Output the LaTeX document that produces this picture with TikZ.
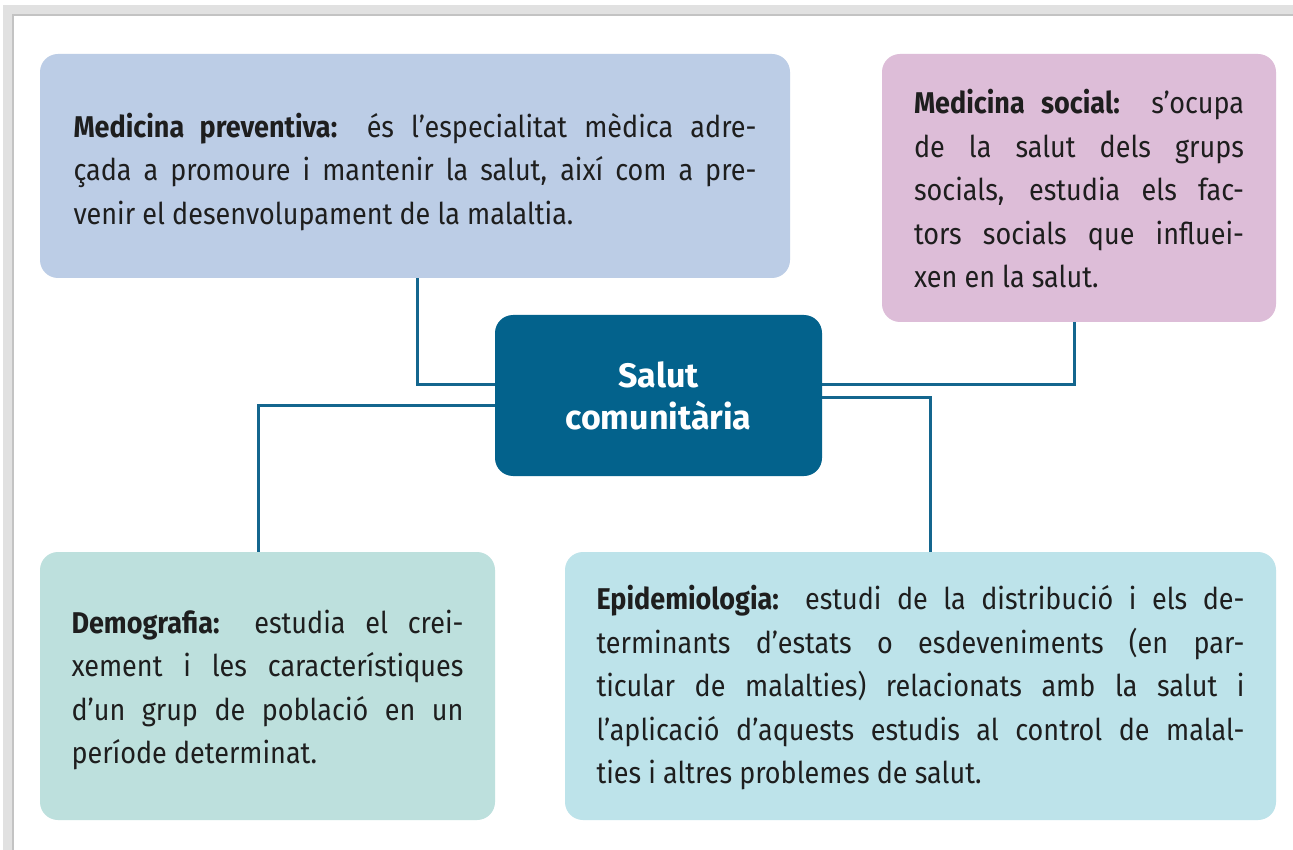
\documentclass[tikz,border=0pt]{standalone}
\usepackage{fontspec}
\setmainfont[FakeStretch=0.9]{Fira Sans}
\newfontfamily\cenfont{Fira Sans}
\definecolor{cprev}{HTML}{BCCDE6}
\definecolor{cpink}{HTML}{DDBDD8}
\definecolor{ccent}{HTML}{03628C}
\definecolor{cgreen}{HTML}{BDE0DD}
\definecolor{cepid}{HTML}{BDE3EA}
\definecolor{cline}{HTML}{14668E}
\definecolor{ctext}{HTML}{1E1E1E}
\definecolor{cframe}{HTML}{D4D4D4}
\newcommand\jl[2]{\setbox0=\hbox{#2}\ifdim\wd0>#1\relax\scalebox{\fpeval{(#1)/(\wd0)}}[1]{\box0}\else\makebox[#1][s]{#2}\fi}
\tikzset{
  box/.style={rounded corners=18pt, inner sep=0pt},
  txt/.style={inner sep=0pt, align=left, text=ctext,
    font=\fontsize{30}{43.5}\selectfont},
  conn/.style={draw=cline, line width=3pt},
}
\begin{document}
\begin{tikzpicture}[x=1pt,y=-1pt]
\useasboundingbox (0,0) rectangle (1293,850);
\fill[white] (0,0) rectangle (1293,850);
% frame
\draw[cframe!70, line width=10pt] (8,860) -- (8,10) -- (1300,10);
\draw[cframe!140, line width=1.2pt] (13,860) -- (13,15) -- (1300,15);

\node[box, fill=cprev, minimum width=750pt, minimum height=224pt] (prev) at (415,166) {};
\node[txt] (prevtxt) at ([yshift=-6pt]prev.center)
 {\jl{683pt}{\textbf{Medicina preventiva:} és l'especialitat mèdica adre-}\\
  \jl{683pt}{çada a promoure i mantenir la salut, així com a pre-}\\
  venir el desenvolupament de la malaltia.};

\node[box, fill=cpink, minimum width=394pt, minimum height=268pt] (soc) at (1079,188) {};
\node[txt] (soctxt) at ([yshift=-1pt]soc.center)
 {\jl{330pt}{\textbf{Medicina social:} s'ocupa}\\
  \jl{330pt}{de la salut dels grups}\\
  \jl{330pt}{socials, estudia els fac-}\\
  \jl{330pt}{tors socials que influei-}\\
  xen en la salut.};

\node[box, fill=ccent, minimum width=327pt, minimum height=161pt, align=center, text=white,
  font=\fontsize{34}{42}\cenfont\bfseries] (cen) at (658.5,395.5)
 {Salut\\comunitària};

\node[box, fill=cgreen, minimum width=455pt, minimum height=268pt] (dem) at (267.5,686) {};
\node[txt] (demtxt) at ([yshift=-4pt]dem.center)
 {\jl{392pt}{\textbf{Demografia:} estudia el crei-}\\
  \jl{392pt}{xement i les característiques}\\
  \jl{392pt}{d'un grup de població en un}\\
  període determinat.};

\node[box, fill=cepid, minimum width=711pt, minimum height=268pt] (epi) at (920.5,686) {};
\node[txt] (epitxt) at ([yshift=-2pt]epi.center)
 {\jl{648pt}{\textbf{Epidemiologia:} estudi de la distribució i els de-}\\
  \jl{648pt}{terminants d'estats o esdeveniments (en par-}\\
  \jl{648pt}{ticular de malalties) relacionats amb la salut i}\\
  \jl{648pt}{l'aplicació d'aquests estudis al control de malal-}\\
  ties i altres problemes de salut.};

\coordinate (k1) at (417,384);
\coordinate (k2) at (258,405);
\coordinate (k3) at (1074,384);
\coordinate (k4) at (930,397);

\draw[conn] (prev.south -| k1) |- (cen.west |- k1);
\draw[conn] (cen.west |- k2) -| (dem.north -| k2);
\draw[conn] (cen.east |- k3) -| (soc.south -| k3);
\draw[conn] (cen.east |- k4) -| (epi.north -| k4);
\end{tikzpicture}
\end{document}
